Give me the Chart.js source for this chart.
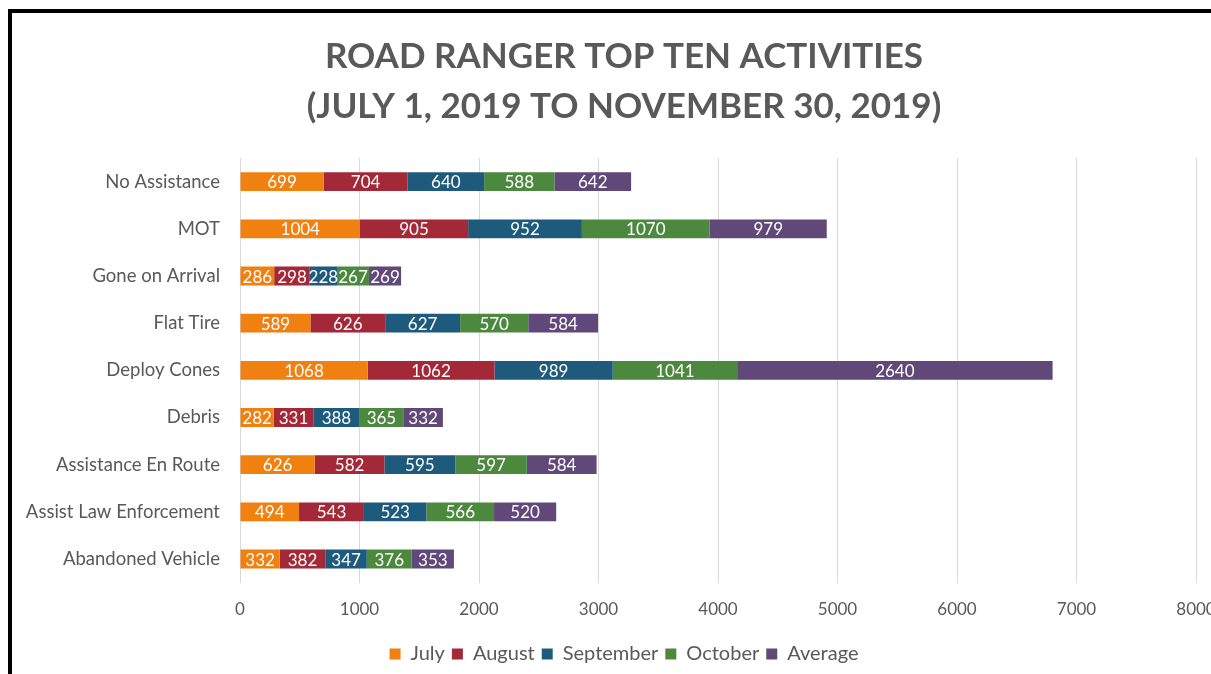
<!DOCTYPE html>
<html>
<head>
<meta charset="utf-8">
<script src="https://cdn.jsdelivr.net/npm/chart.js@4/dist/chart.umd.min.js"></script>
<style>
  html, body { margin: 0; padding: 0; background: #ffffff; overflow: hidden; }
  #wrap { position: relative; width: 1211px; height: 674px; overflow: hidden; }
  #c { position: absolute; left: 0; top: 0; }
  #frame { position: absolute; left: 8px; top: 9px; width: 1300px; height: 700px;
           border-top: 4px solid #000; border-left: 4px solid #000; pointer-events: none; }
</style>
</head>
<body>
<div id="wrap">
  <canvas id="c" width="1260" height="674"></canvas>
  <div id="frame"></div>
</div>
<script>
const categories = ["No Assistance", "MOT", "Gone on Arrival", "Flat Tire", "Deploy Cones",
  "Debris", "Assistance En Route", "Assist Law Enforcement", "Abandoned Vehicle"];
const july      = [699, 1004, 286, 589, 1068, 282, 626, 494, 332];
const august    = [704, 905, 298, 626, 1062, 331, 582, 543, 382];
const september = [640, 952, 228, 627, 989, 388, 595, 523, 347];
const october   = [588, 1070, 267, 570, 1041, 365, 597, 566, 376];
const average   = [642, 979, 269, 584, 2640, 332, 584, 520, 353];
const seriesNames = ["July", "August", "September", "October", "Average"];
const xTicks = [0, 1000, 2000, 3000, 4000, 5000, 6000, 7000, 8000];
const titleLines = ["ROAD RANGER TOP TEN ACTIVITIES", "(JULY 1, 2019 TO NOVEMBER 30, 2019)"];

const colors = ["#F08010", "#A32938", "#1E5A7C", "#4C893F", "#604979"];
const seriesData = [july, august, september, october, average];

const FONT = "Lato, 'Open Sans', sans-serif";
const GREY = "#595959";

const barLabels = {
  id: "barLabels",
  afterDatasetsDraw(chart) {
    const ctx = chart.ctx;
    ctx.save();
    ctx.font = "17px " + FONT;
    ctx.fillStyle = "#ffffff";
    ctx.textAlign = "center";
    ctx.textBaseline = "middle";
    chart.data.datasets.forEach((ds, i) => {
      const meta = chart.getDatasetMeta(i);
      meta.data.forEach((el, j) => {
        const p = el.getCenterPoint();
        ctx.fillText(String(ds.data[j]), p.x, p.y + 1);
      });
    });
    ctx.restore();
  }
};

new Chart(document.getElementById("c"), {
  type: "bar",
  data: {
    labels: categories,
    datasets: seriesNames.map((n, i) => ({
      label: n,
      data: seriesData[i],
      backgroundColor: colors[i],
      borderWidth: 0,
      barPercentage: 0.4,
      categoryPercentage: 1.0
    }))
  },
  options: {
    indexAxis: "y",
    responsive: false,
    animation: false,
    layout: { padding: { left: 52, right: 64, top: 20, bottom: 0 } },
    plugins: {
      title: {
        display: true,
        text: titleLines,
        color: GREY,
        font: { family: FONT, size: 35, weight: "bold", lineHeight: 1.43 },
        padding: { top: 12, bottom: 26 }
      },
      legend: {
        position: "bottom",
        labels: {
          color: GREY,
          font: { family: FONT, size: 20 },
          boxWidth: 11,
          boxHeight: 11,
          padding: 7
        }
      },
      tooltip: { enabled: false }
    },
    scales: {
      x: {
        stacked: true,
        min: 0,
        max: 8000,
        afterBuildTicks(scale) { scale.ticks = xTicks.map(v => ({ value: v })); },
        ticks: { color: GREY, font: { family: FONT, size: 17 }, padding: 17,
                 callback: (v) => String(v) },
        grid: { color: "#d9d9d9", lineWidth: 1, drawTicks: false },
        border: { display: false }
      },
      y: {
        stacked: true,
        afterFit(scale) {
          scale.width = 188;
          scale._computeLabelArea = () => undefined;
        },
        ticks: { color: GREY, font: { family: FONT, size: 18.5 }, padding: 20 },
        grid: { display: false, drawTicks: false },
        border: { display: false }
      }
    }
  },
  plugins: [barLabels]
});
</script>
</body>
</html>
